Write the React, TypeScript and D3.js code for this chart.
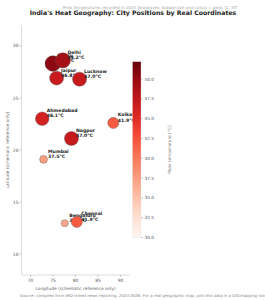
import React from "react";
import * as d3 from "d3";

const cities = ["Churu", "Delhi", "Jaipur", "Lucknow", "Ahmedabad", "Nagpur", "Kolkata", "Mumbai", "Bengaluru", "Chennai"];
const lons = [74.97, 77.2, 75.8, 80.9, 72.6, 79.1, 88.4, 72.9, 77.6, 80.3];
const lats = [28.3, 28.6, 26.9, 26.8, 23.0, 21.1, 22.6, 19.1, 12.97, 13.1];
const temps = [50.5, 49.2, 46.8, 47.0, 46.1, 47.0, 41.9, 37.5, 36.8, 41.9];
const lonTicks = [70, 75, 80, 85, 90];
const latTicks = [10, 15, 20, 25, 30];
const tempTicks = [30, 32.5, 35, 37.5, 40, 42.5, 45, 47.5, 50];

const W = 265;
const H = 300;
const font = "DejaVu Sans, sans-serif";

export default function App() {
  const plot = { left: 21.5, right: 129.5, top: 25, bottom: 275 };
  const x = d3.scaleLinear().domain([68, 92]).range([plot.left, plot.right]);
  const y = d3.scaleLinear().domain([8, 32]).range([plot.bottom, plot.top]);
  const area = d3.scaleLinear().domain([35, 51]).range([20, 200]);
  const cmap = d3.scaleSequential(d3.interpolateReds).domain([30, 52.2]);

  // colorbar
  const cb = { x: 132.5, w: 8.5, top: 61.7, bottom: 237.5 };
  const cy = d3.scaleLinear().domain([30, 52.2]).range([cb.bottom, cb.top]);
  const stops = d3.range(0, 1.0001, 0.05);

  const data = cities.map((c, i) => ({ name: c, lon: lons[i], lat: lats[i], t: temps[i] }));

  return (
    <svg width={W} height={H} style={{ position: "absolute", left: 0, top: 0, background: "#fff" }} fontFamily={font}>
      <defs>
        <linearGradient id="cbar" x1="0" y1="1" x2="0" y2="0">
          {stops.map((s) => (
            <stop key={s} offset={s} stopColor={cmap(30 + s * 22.2)} />
          ))}
        </linearGradient>
      </defs>

      {/* subtitle (faint) and title */}
      <text x={150} y={9} fontSize={4} fill="#aaa" textAnchor="middle">
        Peak temperatures recorded in 2024 heatwaves; bubble size and colour = peak °C, IST
      </text>
      <text x={133} y={14.5} fontSize={6.2} fontWeight="bold" fill="#222" textAnchor="middle">
        India's Heat Geography: City Positions by Real Coordinates
      </text>

      {/* axes */}
      <line x1={plot.left} x2={plot.left} y1={plot.top} y2={plot.bottom} stroke="#c8c8c8" strokeWidth={0.6} />
      <line x1={plot.left} x2={plot.right} y1={plot.bottom} y2={plot.bottom} stroke="#c8c8c8" strokeWidth={0.6} />
      {latTicks.map((t) => (
        <g key={t}>
          <line x1={plot.left - 2} x2={plot.left} y1={y(t)} y2={y(t)} stroke="#999" strokeWidth={0.5} />
          <text x={plot.left - 3} y={y(t) + 1.6} fontSize={4.5} fill="#555" textAnchor="end">{t}</text>
        </g>
      ))}
      {lonTicks.map((t) => (
        <g key={t}>
          <line x1={x(t)} x2={x(t)} y1={plot.bottom} y2={plot.bottom + 2} stroke="#999" strokeWidth={0.5} />
          <text x={x(t)} y={plot.bottom + 7} fontSize={4.5} fill="#555" textAnchor="middle">{t}</text>
        </g>
      ))}
      <text x={(plot.left + plot.right) / 2} y={290} fontSize={4.3} fill="#666" textAnchor="middle">
        Longitude (schematic reference only)
      </text>
      <text transform={`translate(9,${(plot.top + plot.bottom) / 2}) rotate(-90)`} fontSize={4.3} fill="#666" textAnchor="middle">
        Latitude (schematic reference only)
      </text>

      {/* bubbles, each followed by its label */}
      {data.map((d) => (
        <g key={d.name}>
          <circle
            cx={x(d.lon)}
            cy={y(d.lat)}
            r={Math.sqrt(area(d.t) / Math.PI)}
            fill={cmap(d.t)}
            stroke="#555"
            strokeWidth={0.4}
          />
          <text x={x(d.lon) + 4.5} y={y(d.lat) - 6.5} fontSize={4.6} fontWeight="bold" fill="#222">
            <tspan x={x(d.lon) + 4.5}>{d.name}</tspan>
            <tspan x={x(d.lon) + 4.5} dy={5.2}>{d.t.toFixed(1)}°C</tspan>
          </text>
        </g>
      ))}

      {/* colorbar */}
      <rect x={cb.x} y={cb.top} width={cb.w} height={cb.bottom - cb.top} fill="url(#cbar)" stroke="#ddd" strokeWidth={0.3} />
      {tempTicks.map((t) => (
        <g key={t}>
          <line x1={cb.x + cb.w} x2={cb.x + cb.w + 2} y1={cy(t)} y2={cy(t)} stroke="#999" strokeWidth={0.5} />
          <text x={cb.x + cb.w + 3.5} y={cy(t) + 1.5} fontSize={4.3} fill="#555">{t.toFixed(1)}</text>
        </g>
      ))}
      <text transform={`translate(171,${(cb.top + cb.bottom) / 2}) rotate(-90)`} fontSize={4.3} fill="#777" textAnchor="middle">
        Peak temperature (°C)
      </text>

      {/* source */}
      <text x={20} y={297} fontSize={3.9} fill="#888" fontStyle="italic">
        Source: compiled from IMD-linked news reporting, 2024-2026. For a real geographic map, plot this data in a GIS/mapping tool.
      </text>
    </svg>
  );
}
